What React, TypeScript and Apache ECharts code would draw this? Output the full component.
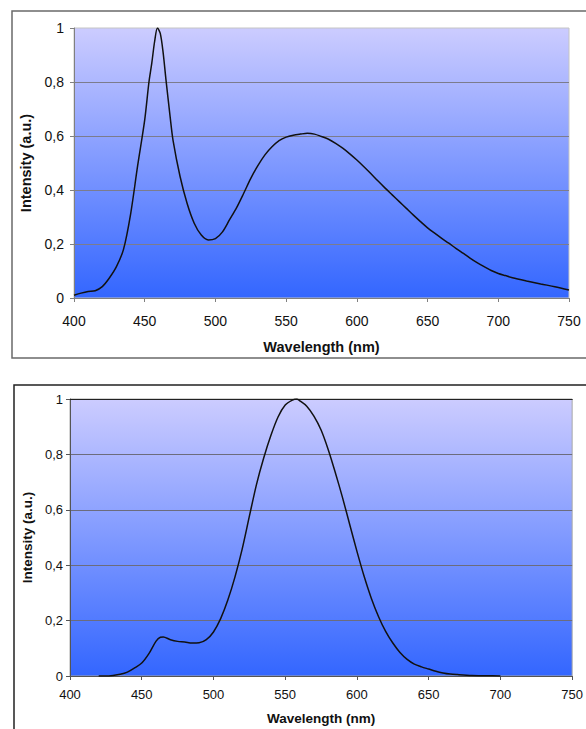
import React, { useEffect, useRef } from "react";
import * as echarts from "echarts";

// Top chart (white LED spectrum)
const topWavelengths = [400, 405, 410, 415, 420, 425, 430, 435, 440, 445, 450, 453, 455, 457, 459, 461, 463, 465, 468, 470, 475, 480, 485, 490, 495, 500, 505, 510, 515, 520, 525, 530, 535, 540, 545, 550, 555, 560, 565, 570, 575, 580, 585, 590, 595, 600, 605, 610, 615, 620, 625, 630, 635, 640, 645, 650, 655, 660, 665, 670, 675, 680, 685, 690, 695, 700, 705, 710, 720, 730, 740, 750];
const topIntensity = [0.01, 0.018, 0.024, 0.027, 0.042, 0.074, 0.116, 0.18, 0.31, 0.49, 0.66, 0.8, 0.87, 0.95, 1.0, 0.98, 0.91, 0.81, 0.67, 0.585, 0.45, 0.35, 0.277, 0.233, 0.215, 0.22, 0.245, 0.29, 0.335, 0.388, 0.443, 0.49, 0.53, 0.56, 0.583, 0.596, 0.603, 0.607, 0.61, 0.607, 0.598, 0.588, 0.573, 0.555, 0.534, 0.511, 0.486, 0.46, 0.433, 0.407, 0.382, 0.357, 0.332, 0.307, 0.283, 0.26, 0.24, 0.221, 0.203, 0.184, 0.166, 0.148, 0.131, 0.116, 0.102, 0.091, 0.083, 0.075, 0.063, 0.052, 0.042, 0.03];

// Bottom chart (green LED spectrum)
const bottomWavelengths = [420, 425, 430, 435, 440, 445, 450, 455, 460, 463, 465, 470, 475, 480, 485, 490, 495, 500, 505, 510, 515, 520, 525, 530, 535, 540, 545, 550, 555, 558, 560, 565, 570, 575, 580, 585, 590, 595, 600, 605, 610, 615, 620, 625, 630, 635, 640, 645, 650, 655, 660, 665, 670, 680, 690, 700];
const bottomIntensity = [0, 0, 0.002, 0.006, 0.014, 0.029, 0.047, 0.081, 0.126, 0.14, 0.141, 0.131, 0.125, 0.123, 0.119, 0.12, 0.131, 0.159, 0.207, 0.274, 0.358, 0.458, 0.576, 0.692, 0.787, 0.868, 0.935, 0.978, 0.996, 1.0, 0.994, 0.974, 0.938, 0.888, 0.817, 0.733, 0.643, 0.546, 0.45, 0.36, 0.281, 0.215, 0.161, 0.119, 0.085, 0.06, 0.043, 0.033, 0.025, 0.017, 0.011, 0.007, 0.005, 0.002, 0.001, 0];

const xMin = 400;
const xMax = 750;
const xStep = 50;
const yMin = 0;
const yMax = 1;
const yStep = 0.2;

const xTitle = "Wavelength (nm)";
const yTitle = "Intensity (a.u.)";

const FONT = "'Liberation Sans', Arial, sans-serif";

const bg = () =>
  new echarts.graphic.LinearGradient(0, 0, 0, 1, [
    { offset: 0, color: "#ccccff" },
    { offset: 1, color: "#3366ff" },
  ]);

const fmtY = (v: number) => (v === 0 ? "0" : v === 1 ? "1" : String(Number(v.toFixed(1))).replace(".", ","));

export default function App() {
  const ref = useRef<HTMLDivElement>(null);
  useEffect(() => {
    if (!ref.current) return;
    const chart = echarts.init(ref.current, null, { renderer: "svg" });
    const topData = topWavelengths.map((w, i) => [w, topIntensity[i]]);
    const bottomData = bottomWavelengths.map((w, i) => [w, bottomIntensity[i]]);
    chart.setOption({
      animation: false,
      backgroundColor: "#ffffff",
      graphic: [
        {
          type: "rect",
          shape: { x: 12, y: 11, width: 640, height: 347 },
          style: { fill: "none", stroke: "#6a6a6a", lineWidth: 1.5 },
          silent: true,
        },
        {
          type: "rect",
          shape: { x: 14, y: 385, width: 640, height: 400 },
          style: { fill: "none", stroke: "#222222", lineWidth: 1.5 },
          silent: true,
        },
      ],
      grid: [
        {
          left: 74, top: 28, width: 495, height: 270,
          show: true, backgroundColor: bg(), borderColor: "#c4c4c4", borderWidth: 1,
        },
        {
          left: 70, top: 399, width: 506, height: 277,
          show: true, backgroundColor: bg(), borderColor: "#a8a8a8", borderWidth: 1,
        },
      ],
      xAxis: [
        {
          type: "value", gridIndex: 0, min: xMin, max: xMax, interval: xStep,
          name: xTitle, nameLocation: "middle", nameGap: 41,
          nameTextStyle: { fontFamily: FONT, fontWeight: "bold", fontSize: 14.5, color: "#111" },
          axisLine: { show: true, lineStyle: { color: "#808080", width: 1 } },
          axisTick: { show: true, length: 4, lineStyle: { color: "#808080" } },
          axisLabel: { margin: 16, fontFamily: FONT, fontSize: 14, color: "#111" },
          splitLine: { show: false },
        },
        {
          type: "value", gridIndex: 1, min: xMin, max: xMax, interval: xStep,
          name: xTitle, nameLocation: "middle", nameGap: 35,
          nameTextStyle: { fontFamily: FONT, fontWeight: "bold", fontSize: 13.5, color: "#111" },
          axisLine: { show: true, lineStyle: { color: "#555", width: 1 } },
          axisTick: { show: true, length: 4, lineStyle: { color: "#555" } },
          axisLabel: { margin: 12, fontFamily: FONT, fontSize: 13, color: "#111" },
          splitLine: { show: false },
        },
        {
          type: "value", gridIndex: 1, position: "top", min: xMin, max: xMax, interval: xStep,
          axisLine: { show: true, lineStyle: { color: "#222", width: 1.2 } },
          axisTick: { show: false },
          axisLabel: { show: false },
          splitLine: { show: false },
        },
      ],
      yAxis: [
        {
          type: "value", gridIndex: 0, min: yMin, max: yMax, interval: yStep,
          name: yTitle, nameLocation: "middle", nameGap: 39,
          nameTextStyle: { fontFamily: FONT, fontWeight: "bold", fontSize: 14.5, color: "#111" },
          axisLine: { show: true, lineStyle: { color: "#808080", width: 1 } },
          axisTick: { show: true, length: 4, lineStyle: { color: "#808080" } },
          axisLabel: { margin: 10, fontFamily: FONT, fontSize: 14, color: "#111", formatter: fmtY },
          splitLine: { show: true, showMaxLine: false, lineStyle: { color: "#7c7c8c", width: 1 } },
        },
        {
          type: "value", gridIndex: 1, min: yMin, max: yMax, interval: yStep,
          name: yTitle, nameLocation: "middle", nameGap: 34,
          nameTextStyle: { fontFamily: FONT, fontWeight: "bold", fontSize: 13.5, color: "#111" },
          axisLine: { show: true, lineStyle: { color: "#555", width: 1 } },
          axisTick: { show: true, length: 4, lineStyle: { color: "#555" } },
          axisLabel: { margin: 7, fontFamily: FONT, fontSize: 13, color: "#111", formatter: fmtY },
          splitLine: { show: true, showMaxLine: false, lineStyle: { color: "#6c6c7c", width: 1 } },
        },
      ],
      series: [
        {
          type: "line", xAxisIndex: 0, yAxisIndex: 0, data: topData,
          showSymbol: false, smooth: 0.3,
          lineStyle: { color: "#111111", width: 1.5 },
        },
        {
          type: "line", xAxisIndex: 1, yAxisIndex: 1, data: bottomData,
          showSymbol: false, smooth: 0.3,
          lineStyle: { color: "#111111", width: 1.5 },
        },
      ],
    });
    return () => chart.dispose();
  }, []);
  return (
    <div
      ref={ref}
      style={{ position: "absolute", left: 0, top: 0, width: 586, height: 729 }}
    />
  );
}
